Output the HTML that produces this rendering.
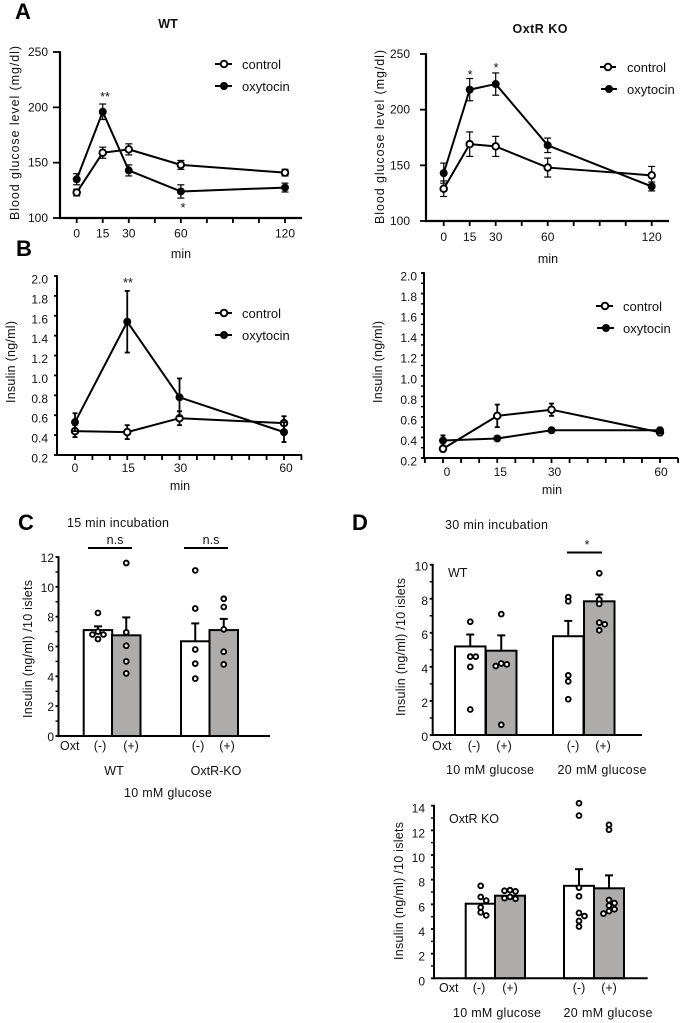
<!DOCTYPE html>
<html lang="en">
<head>
<meta charset="utf-8">
<title>Blood glucose and insulin response to oxytocin</title>
<style>
html,body{margin:0;padding:0;background:#fff;width:682px;height:1023px;overflow:hidden}
svg{display:block}
text{font-family:"Liberation Sans",sans-serif;font-size:12.5px;fill:#111}
.letter{font-size:22px;font-weight:700;fill:#000}
.head{font-weight:700;font-size:12.5px}
.mid{text-anchor:middle}
.legend text{font-size:13px}
</style>
</head>
<body>
<svg id="figure" xmlns="http://www.w3.org/2000/svg" width="682" height="1023" viewBox="0 0 682 1023">
  <rect x="0" y="0" width="682" height="1023" fill="#fff"/>

  <text class="letter" x="15" y="19">A</text>
  <text class="letter" x="16" y="256">B</text>
  <text class="letter" x="18" y="530">C</text>
  <text class="letter" x="352" y="530">D</text>

  <text class="head mid" x="168" y="28">WT</text>
  <text class="head mid" x="540" y="33" textLength="55">OxtR KO</text>

  <text class="mid" transform="translate(19,133) rotate(-90)" textLength="174">Blood glucose level (mg/dl)</text>
  <text class="mid" x="181" y="258">min</text>
  <text class="mid" transform="translate(384,137) rotate(-90)" textLength="174">Blood glucose level (mg/dl)</text>
  <text class="mid" x="548" y="263">min</text>
  <text class="mid" transform="translate(15,362) rotate(-90)" textLength="82">Insulin (ng/ml)</text>
  <text class="mid" x="180" y="490">min</text>
  <text class="mid" transform="translate(382,362) rotate(-90)" textLength="82">Insulin (ng/ml)</text>
  <text class="mid" x="552" y="494">min</text>

  <text class="mid" x="105" y="101">**</text>
  <text class="mid" x="183" y="212">*</text>
  <text class="mid" x="470" y="79">*</text>
  <text class="mid" x="496" y="72">*</text>
  <text class="mid" x="128" y="287">**</text>

  <g class="legend">
    <line x1="215" y1="64" x2="232" y2="64" stroke="#000" stroke-width="2"/>
    <circle cx="224" cy="64" r="3.3" fill="#fff" stroke="#000" stroke-width="1.9"/>
    <text x="242" y="69">control</text>
    <line x1="215" y1="86" x2="232" y2="86" stroke="#000" stroke-width="2"/>
    <circle cx="224" cy="86" r="4" fill="#000"/>
    <text x="242" y="91">oxytocin</text>
  </g>
  <g class="legend">
    <line x1="600" y1="67" x2="616" y2="67" stroke="#000" stroke-width="2"/>
    <circle cx="608" cy="67" r="3.3" fill="#fff" stroke="#000" stroke-width="1.9"/>
    <text x="627" y="72">control</text>
    <line x1="601" y1="89" x2="617" y2="89" stroke="#000" stroke-width="2"/>
    <circle cx="609" cy="89" r="4" fill="#000"/>
    <text x="627" y="94">oxytocin</text>
  </g>
  <g class="legend">
    <line x1="215" y1="313" x2="232" y2="313" stroke="#000" stroke-width="2"/>
    <circle cx="224" cy="313" r="3.3" fill="#fff" stroke="#000" stroke-width="1.9"/>
    <text x="242" y="318">control</text>
    <line x1="215" y1="335" x2="232" y2="335" stroke="#000" stroke-width="2"/>
    <circle cx="224" cy="335" r="4" fill="#000"/>
    <text x="242" y="340">oxytocin</text>
  </g>
  <g class="legend">
    <line x1="596" y1="306" x2="613" y2="306" stroke="#000" stroke-width="2"/>
    <circle cx="605" cy="306" r="3.3" fill="#fff" stroke="#000" stroke-width="1.9"/>
    <text x="623" y="311">control</text>
    <line x1="597" y1="328" x2="614" y2="328" stroke="#000" stroke-width="2"/>
    <circle cx="606" cy="328" r="4" fill="#000"/>
    <text x="623" y="333">oxytocin</text>
  </g>

  <text x="67" y="527" textLength="102">15 min incubation</text>
  <text class="mid" x="115" y="544">n.s</text>
  <line x1="88" y1="548" x2="132" y2="548" stroke="#000" stroke-width="2"/>
  <text class="mid" x="211" y="544">n.s</text>
  <line x1="184" y1="548" x2="228" y2="548" stroke="#000" stroke-width="2"/>
  <text class="mid" transform="translate(32,649) rotate(-90)" textLength="138">Insulin (ng/ml) /10 islets</text>
  <text x="60" y="750">Oxt</text>
  <text class="mid" x="100" y="750">(-)</text>
  <text class="mid" x="131" y="750">(+)</text>
  <text class="mid" x="198" y="750">(-)</text>
  <text class="mid" x="227" y="750">(+)</text>
  <text class="mid" x="114" y="775">WT</text>
  <text class="mid" x="216" y="775">OxtR-KO</text>
  <text class="mid" x="168" y="797" textLength="88">10 mM glucose</text>

  <text x="445" y="529" textLength="103">30 min incubation</text>
  <text class="mid" x="587" y="549">*</text>
  <line x1="567" y1="552.5" x2="602" y2="552.5" stroke="#000" stroke-width="2"/>
  <text x="448" y="577">WT</text>
  <text class="mid" transform="translate(405,647) rotate(-90)" textLength="138">Insulin (ng/ml) /10 islets</text>
  <text x="432" y="750">Oxt</text>
  <text class="mid" x="474" y="750">(-)</text>
  <text class="mid" x="504" y="750">(+)</text>
  <text class="mid" x="573" y="750">(-)</text>
  <text class="mid" x="603" y="750">(+)</text>
  <text class="mid" x="490" y="774" textLength="88">10 mM glucose</text>
  <text class="mid" x="602" y="774" textLength="89">20 mM glucose</text>

  <text x="449" y="823">OxtR KO</text>
  <text class="mid" transform="translate(403,891) rotate(-90)" textLength="138">Insulin (ng/ml) /10 islets</text>
  <text x="439" y="992">Oxt</text>
  <text class="mid" x="479" y="992">(-)</text>
  <text class="mid" x="510" y="992">(+)</text>
  <text class="mid" x="579" y="992">(-)</text>
  <text class="mid" x="609" y="992">(+)</text>
  <text class="mid" x="497" y="1017" textLength="88">10 mM glucose</text>
  <text class="mid" x="608" y="1017" textLength="89">20 mM glucose</text>

  <g id="charts"></g>
</svg>

<script>
// ---- Panel A, WT ----
const glucoseMinutes = [0, 15, 30, 60, 120];
const glucoseTicks = [100, 150, 200, 250];
const aWtControl = [123, 159, 162, 148, 141];
const aWtControlErr = [3, 5, 5, 4, 3];
const aWtOxytocin = [135, 196, 143, 124, 127.5];
const aWtOxytocinErr = [5, 7, 5, 6, 4];
// ---- Panel A, OxtR KO ----
const aKoControl = [129, 169, 167, 148, 141];
const aKoControlErr = [7, 11, 9, 8.5, 8];
const aKoOxytocin = [143, 218, 223, 168, 131];
const aKoOxytocinErr = [9, 10, 10, 6.5, 4];
// ---- Panel B ----
const insulinMinutes = [0, 15, 30, 60];
const insulinTicks = [0.2, 0.4, 0.6, 0.8, 1.0, 1.2, 1.4, 1.6, 1.8, 2.0];
const bWtControl = [0.44, 0.43, 0.57, 0.52];
const bWtControlErr = [0.06, 0.07, 0.07, 0.07];
const bWtOxytocin = [0.53, 1.54, 0.78, 0.43];
const bWtOxytocinErr = [0.09, 0.31, 0.19, 0.1];
const bKoControl = [0.29, 0.61, 0.67, 0.45];
const bKoControlErr = [0.03, 0.11, 0.06, 0.03];
const bKoOxytocin = [0.37, 0.39, 0.47, 0.47];
const bKoOxytocinErr = [0.05, 0.02, 0.02, 0.02];
// ---- Panel C ----
const cTicks = [0, 2, 4, 6, 8, 10, 12];
const cMeans = [7.1, 6.75, 6.35, 7.1];
const cErrs = [0.25, 1.2, 1.2, 0.75];
const cPoints = [
  [8.25, 7.0, 6.8, 6.8, 6.5],
  [11.6, 6.95, 6.05, 5.0, 4.2],
  [11.1, 8.55, 5.8, 4.85, 3.85],
  [9.2, 8.65, 7.15, 5.65, 4.8]
];
// ---- Panel D, WT ----
const dWtTicks = [0, 2, 4, 6, 8, 10];
const dWtMeans = [5.2, 4.95, 5.8, 7.85];
const dWtErrs = [0.7, 0.9, 0.9, 0.4];
const dWtPoints = [
  [6.65, 4.6, 4.6, 4.0, 1.5],
  [7.1, 4.2, 4.15, 4.05, 0.6],
  [8.1, 7.85, 3.5, 3.15, 2.1],
  [9.5, 7.95, 7.7, 6.6, 6.5, 6.15]
];
// ---- Panel D, OxtR KO ----
const dKoTicks = [0, 2, 4, 6, 8, 10, 12, 14];
const dKoMeans = [6.05, 6.7, 7.5, 7.3];
const dKoErrs = [0, 0, 1.35, 1.05];
const dKoPoints = [
  [7.5, 6.6, 6.3, 5.75, 5.35, 5.1],
  [7.15, 7.05, 7.1, 6.6, 6.45, 6.5],
  [14.2, 13.2, 7.35, 6.65, 5.3, 5.05, 4.65, 4.2],
  [12.45, 12.05, 6.35, 6.1, 5.9, 5.6, 5.45, 5.25]
];

const root = document.getElementById('charts');
const NS = 'http://www.w3.org/2000/svg';

function mk(tag, attrs, parent, name) {
  const e = document.createElementNS(NS, tag);
  for (const k in attrs) e.setAttribute(k, attrs[k]);
  
  
  parent.appendChild(e);
  return e;
}
function linear(d0, d1, r0, r1) {
  return v => r0 + (v - d0) * (r1 - r0) / (d1 - d0);
}
function seg(p, x1, y1, x2, y2, w, name) {
  return mk('line', {x1, y1, x2, y2, stroke: '#000', 'stroke-width': w}, p, name);
}
function label(p, x, y, anchor, str, name) {
  const t = mk('text', {x, y, 'text-anchor': anchor, style: 'font-size:12px'}, p, name);
  t.textContent = str;
  return t;
}

function yAxis(p, cfg, ticks, y, fmt) {
  const top = y(ticks[ticks.length - 1]), bottom = y(ticks[0]);
  seg(p, cfg.axisX, top - 0.8, cfg.axisX, bottom + 1, cfg.axisW, 'y-axis-line');
  ticks.forEach((v, i) => {
    seg(p, cfg.axisX - cfg.yTick, y(v), cfg.axisX, y(v), 1.8, 'y-tick');
    label(p, cfg.labelRight, y(v) + cfg.labelDy, 'end', fmt(v), 'y-tick-label');
    if (cfg.yMinor && i < ticks.length - 1) {
      const m = (v + ticks[i + 1]) / 2;
      seg(p, cfg.axisX - 3, y(m), cfg.axisX, y(m), 1.4, 'y-minor-tick');
    }
  });
}

function series(p, x, y, cats, vals, errs, open, cap, errW, name) {
  const pts = cats.map((c, i) => x(c) + ',' + y(vals[i])).join(' ');
  cats.forEach((c, i) => {
    const cx = x(c), hi = y(vals[i] + errs[i]), lo = y(vals[i] - errs[i]);
    seg(p, cx, hi, cx, lo, errW, name + '-error-bar');
    seg(p, cx - cap, hi, cx + cap, hi, errW, name + '-error-cap');
    seg(p, cx - cap, lo, cx + cap, lo, errW, name + '-error-cap');
  });
  mk('polyline', {points: pts, fill: 'none', stroke: '#000', 'stroke-width': 2, 'stroke-linejoin': 'round'}, p, name + '-line');
  cats.forEach((c, i) => {
    const attrs = open
      ? {cx: x(c), cy: y(vals[i]), r: 3.3, fill: '#fff', stroke: '#000', 'stroke-width': 1.9}
      : {cx: x(c), cy: y(vals[i]), r: 4, fill: '#000'};
    mk('circle', attrs, p, name + '-point');
  });
}

function lineChart(cfg, cats, ticks, control, controlErr, oxy, oxyErr, fmt) {
  const g = mk('g', {}, root, cfg.name);
  const x = linear(0, cats[cats.length - 1], cfg.x0, cfg.x1);
  const y = linear(ticks[0], ticks[ticks.length - 1], cfg.yBottom, cfg.yTop);
  yAxis(g, cfg, ticks, y, fmt);
  seg(g, cfg.axisX - 1, cfg.yBottom, cfg.axisEnd, cfg.yBottom, cfg.axisW, 'x-axis-line');
  for (let m = cfg.xStep * cfg.tickFrom; x(m) <= cfg.axisEnd + 0.5; m += cfg.xStep) {
    seg(g, x(m), cfg.yBottom, x(m), cfg.yBottom + 5, 1.8, 'x-tick');
  }
  cats.forEach(c => {
    const dx = c === cats[cats.length - 1] ? cfg.lastDx : (c === 0 ? cfg.zeroDx : cfg.midDx);
    label(g, x(c) + dx, cfg.xLabelY, 'middle', String(c), 'x-tick-label');
  });
  series(g, x, y, cats, control, controlErr, true, cfg.cap, cfg.errW, 'control');
  series(g, x, y, cats, oxy, oxyErr, false, cfg.cap, cfg.errW, 'oxytocin');
}

function swarm(values, cx, y, step, gap) {
  const placed = [];
  const order = [0, 1, -1, 2, -2, 3, -3];
  return values.map(v => {
    const cy = y(v);
    for (const k of order) {
      const px = cx + k * step;
      if (placed.every(q => Math.hypot(q[0] - px, q[1] - cy) >= gap)) {
        placed.push([px, cy]);
        return [px, cy];
      }
    }
    placed.push([cx, cy]);
    return [cx, cy];
  });
}

function barChart(cfg, ticks, means, errs, points) {
  const g = mk('g', {}, root, cfg.name);
  const y = linear(ticks[0], ticks[ticks.length - 1], cfg.yBottom, cfg.yTop);
  yAxis(g, cfg, ticks, y, String);
  means.forEach((m, i) => {
    const left = cfg.barLefts[i], w = cfg.barW, cx = left + w / 2;
    if (errs[i] > 0) {
      seg(g, cx, y(m), cx, y(m + errs[i]), 2, 'bar-error-line');
      seg(g, cx - 4, y(m + errs[i]), cx + 4, y(m + errs[i]), 2, 'bar-error-cap');
    }
    mk('rect', {x: left, y: y(m), width: w, height: cfg.yBottom - y(m), fill: i % 2 ? '#aeabab' : '#fff', stroke: '#000', 'stroke-width': 2}, g, 'bar');
  });
  seg(g, cfg.axisX - 1, cfg.yBottom, cfg.axisEnd, cfg.yBottom, 2, 'x-axis-line');
  points.forEach((vals, i) => {
    const cx = cfg.barLefts[i] + cfg.barW / 2;
    swarm(vals, cx, y, 5.5, cfg.gap).forEach(pt => {
      mk('circle', {cx: pt[0], cy: pt[1], r: 2.4, fill: '#fff', stroke: '#000', 'stroke-width': 1.9}, g, 'sample-point');
    });
  });
}

const oneDecimal = v => v.toFixed(1);

lineChart({name: 'a-wt-chart', x0: 76.7, x1: 285, axisX: 60, axisEnd: 302, axisW: 2.2, yTop: 52, yBottom: 218, yTick: 7, labelRight: 48, labelDy: 4, xStep: 15, tickFrom: 0, xLabelY: 237.5, zeroDx: 0, midDx: 0, lastDx: 0, cap: 3.5, errW: 1.2}, glucoseMinutes, glucoseTicks, aWtControl, aWtControlErr, aWtOxytocin, aWtOxytocinErr, String);
lineChart({name: 'a-ko-chart', x0: 443.7, x1: 651.7, axisX: 426, axisEnd: 669, axisW: 2.2, yTop: 54, yBottom: 221, yTick: 6, labelRight: 410, labelDy: 4, xStep: 15, tickFrom: 0, xLabelY: 241, zeroDx: 0, midDx: 0, lastDx: 0, cap: 3.5, errW: 1.2}, glucoseMinutes, glucoseTicks, aKoControl, aKoControlErr, aKoOxytocin, aKoOxytocinErr, String);
lineChart({name: 'b-wt-chart', x0: 75, x1: 284, axisX: 57, axisEnd: 302, axisW: 2, yTop: 276, yBottom: 455, yTick: 3, labelRight: 48, labelDy: 7.5, xStep: 5, tickFrom: 0, xLabelY: 472, zeroDx: 0, midDx: 1, lastDx: 2, cap: 2.5, errW: 1.8}, insulinMinutes, insulinTicks, bWtControl, bWtControlErr, bWtOxytocin, bWtOxytocinErr, oneDecimal);
lineChart({name: 'b-ko-chart', x0: 443, x1: 660, axisX: 424, axisEnd: 678, axisW: 2, yTop: 273, yBottom: 458, yTick: 3, yMinor: true, labelRight: 417, labelDy: 7.5, xStep: 5, tickFrom: -1, xLabelY: 476, zeroDx: 4, midDx: 3, lastDx: 1, cap: 2.5, errW: 1.8}, insulinMinutes, insulinTicks, bKoControl, bKoControlErr, bKoOxytocin, bKoOxytocinErr, oneDecimal);

barChart({name: 'c-bar-chart', axisX: 58.5, axisEnd: 270, axisW: 2, yTop: 557, yBottom: 736, yTick: 3, yMinor: true, labelRight: 54, labelDy: 5, gap: 3, barLefts: [83.7, 112, 181, 209.5], barW: 28.5}, cTicks, cMeans, cErrs, cPoints);
barChart({name: 'd-wt-bar-chart', axisX: 432.7, axisEnd: 642, axisW: 2, yTop: 564.7, yBottom: 735, yTick: 3, yMinor: true, labelRight: 428, labelDy: 6, gap: 3, barLefts: [455, 486, 553, 584], barW: 30.5}, dWtTicks, dWtMeans, dWtErrs, dWtPoints);
barChart({name: 'd-ko-bar-chart', axisX: 434, axisEnd: 647.7, axisW: 2, yTop: 805.7, yBottom: 978.3, yTick: 3, yMinor: true, labelRight: 425, labelDy: 7, gap: 4.8, barLefts: [465.7, 495, 564, 594], barW: 30}, dKoTicks, dKoMeans, dKoErrs, dKoPoints);
</script>
</body>
</html>
